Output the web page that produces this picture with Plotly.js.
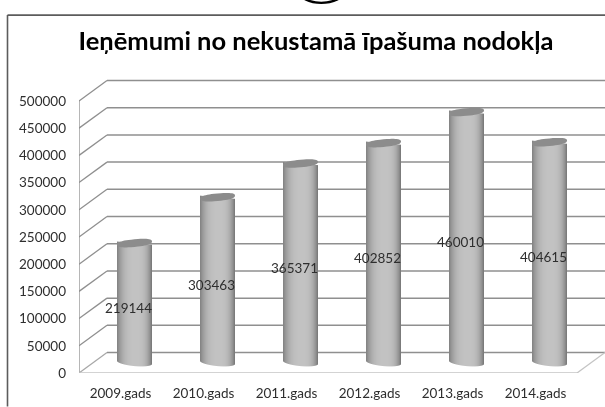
<!DOCTYPE html>
<html><head><meta charset="utf-8">
<script src="https://cdn.plot.ly/plotly-3.0.1.min.js"></script>
<style>html,body{margin:0;padding:0;background:#fff}#c{width:605px;height:407px;filter:blur(0.45px)}</style>
</head><body><div id="c"></div>
<script>
var titleText = 'Ieņēmumi no nekustamā īpašuma nodokļa';
var categories = ['2009.gads','2010.gads','2011.gads','2012.gads','2013.gads','2014.gads'];
var values = [219144,303463,365371,402852,460010,404615];
var yTicks = [0,50000,100000,150000,200000,250000,300000,350000,400000,450000,500000];

// px geometry of the pseudo-3D box
var W=605,H=407, L=79, T=79, B=373.5, R=605;
var catPx=83, unitPx=27.25/50000, depthX=28, depthY=20.5;
var xMax=(R-L)/catPx, yMax=(B-T)/unitPx;
var dx=depthX/catPx, dy=depthY/unitPx;
var gridC='#8f8f8f', floorC='#c4c4c4';
var fontName='Lato, Noto Sans, sans-serif';
function pxX(p){return (p-L)/(R-L);}
function pxY(p){return (B-p)/(B-T);}

var shapes=[];
function seg(x0,y0,x1,y1,c,w,layer){shapes.push({type:'line',xref:'x',yref:'y',x0:x0,y0:y0,x1:x1,y1:y1,layer:layer||'below',line:{color:c,width:w}});}
yTicks.forEach(function(v){
  seg(dx,v+dy,xMax,v+dy,gridC,1.5);
  seg(0,v,dx,v+dy,v===0?'#a8a8a8':gridC,1.3);
  seg(-3/catPx,v,0,v,'#808080',1);
});
seg(0,0,0,500000,gridC,1.3);
seg(0,0,6,0,floorC,1.6);
seg(6,0,xMax,dy,floorC,1.3);
categories.forEach(function(c,i){seg(i,0,i,-4/unitPx,'#a8a8a8',1);});
seg(6,0,6,-4/unitPx,'#a8a8a8',1);

// cylinders: one-pixel stripes following the elliptical base
var barPx=35, rx=barPx/2/catPx, ryPx=3.8, tiltPx=1.6, stripeW=1/catPx, midY=10.7/unitPx;
var bx=[],by=[],bb=[],bc=[],bw=[];
function shade(u){ // u in -1..1
  var peak=0.1, t=u<peak?(u-peak)/(1+peak):(u-peak)/(1-peak);
  var g=Math.round(194-Math.pow(Math.abs(t),3)*(u<peak?66:78));
  return 'rgb('+g+','+g+','+g+')';
}
function spow(a){return (a<0?-1:1)*Math.pow(Math.abs(a),0.8);}
values.forEach(function(v,i){
  var cx=i+0.5+14/catPx;
  for(var k=0;k<barPx;k++){
    var u=(k+0.5)/barPx*2-1;
    var tilt=-u*tiltPx/unitPx;
    var lo=midY+tilt-ryPx*Math.sqrt(1-u*u)/unitPx;
    var hi=midY+v+tilt;
    bx.push(cx+u*rx); bb.push(lo); by.push(hi-lo); bc.push(shade(u)); bw.push(stripeW*1.02);
  }
  var pts=[];
  for(var a=0;a<48;a++){
    var th=a/48*2*Math.PI,c=spow(Math.cos(th)),s=spow(Math.sin(th));
    pts.push((a?'L':'M')+(cx+rx*c)+','+(midY+v+c*tiltPx/unitPx+s*ryPx/unitPx));
  }
  shapes.push({type:'path',xref:'x',yref:'y',layer:'above',path:pts.join(' ')+' Z',fillcolor:'#8c8c8c',line:{width:0}});
});

// frame and clipped mark at the top
function frame(x0,y0,x1,y1,c,w){shapes.push({type:'line',xref:'paper',yref:'paper',x0:pxX(x0),y0:pxY(y0),x1:pxX(x1),y1:pxY(y1),layer:'below',line:{color:c,width:w}});}
frame(7.5,15,605,15,'#5c5c5c',1.6);
frame(7.5,15,7.5,407,'#5c5c5c',1.6);
shapes.push({type:'path',xref:'paper',yref:'paper',layer:'below',fillcolor:'rgba(0,0,0,0)',
  path:'M'+pxX(305)+','+pxY(-1)+' Q'+pxX(321)+','+pxY(6.5)+' '+pxX(338)+','+pxY(-1),line:{color:'#000',width:2.2}});

var labelLift=4/unitPx;
var traces=[
 {type:'bar',x:bx,y:by,base:bb,width:bw,marker:{color:bc,line:{width:0}},hoverinfo:'skip',showlegend:false},
 {type:'scatter',mode:'text',x:values.map(function(v,i){return i+0.5+8/catPx;}),y:values.map(function(v){return v/2+labelLift;}),
  text:values.map(String),textposition:'middle center',cliponaxis:false,
  textfont:{family:fontName,size:13.5,color:'#2e2e2e'},hoverinfo:'skip',showlegend:false}
];
var layout={
 width:W,height:H,autosize:false,showlegend:false,paper_bgcolor:'#fff',plot_bgcolor:'rgba(0,0,0,0)',
 margin:{l:L,r:W-R,t:T,b:H-B,pad:0},barmode:'overlay',
 font:{family:fontName,size:13.5,color:'#2e2e2e'},
 title:{text:'<b>'+titleText+'</b>',x:316/W,xanchor:'center',y:1-41/H,yanchor:'middle',font:{family:fontName,size:25.5,color:'#000'}},
 xaxis:{range:[0,xMax],tickmode:'array',tickvals:categories.map(function(c,i){return i+0.5;}),ticktext:categories,ticks:'',showgrid:false,zeroline:false,showline:false,ticklabelstandoff:10,tickfont:{size:13.5,color:'#2e2e2e'}},
 yaxis:{range:[0,yMax],tickmode:'array',tickvals:yTicks,ticktext:yTicks.map(String),ticks:'',showgrid:false,zeroline:false,showline:false,tickfont:{size:13.5,color:'#2e2e2e'},ticklabelstandoff:12},
 shapes:shapes
};
Plotly.newPlot('c',traces,layout,{displayModeBar:false,staticPlot:true});
</script></body></html>
